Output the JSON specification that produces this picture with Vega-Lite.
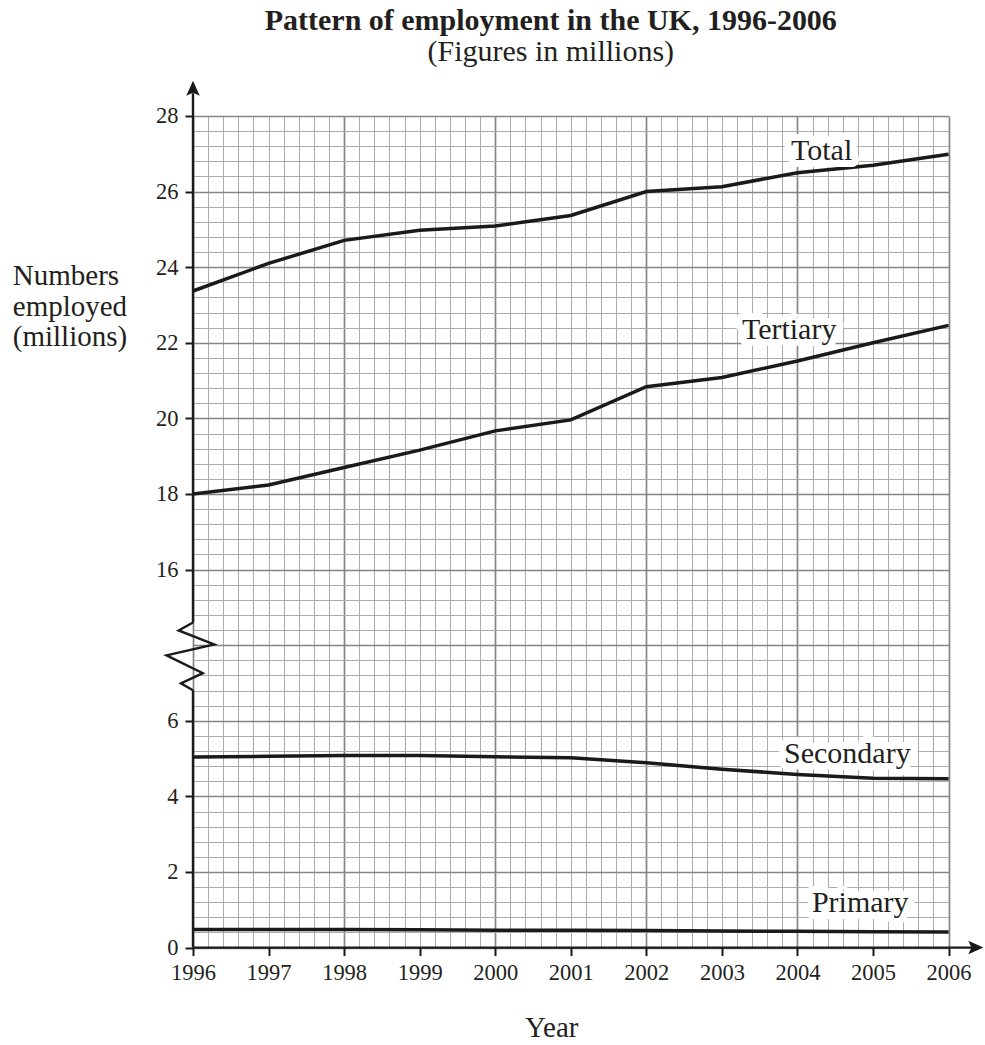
{
  "$schema": "https://vega.github.io/schema/vega-lite/v6.json",
  "width": 755.6,
  "height": 831.6,
  "padding": {"left": 12, "top": 5, "right": 5, "bottom": 5},
  "background": "white",
  "config": {"view": {"stroke": null}, "font": "Liberation Serif"},
  "title": {
    "text": "Pattern of employment in the UK, 1996-2006",
    "subtitle": "(Figures in millions)",
    "font": "Liberation Serif",
    "fontSize": 30,
    "fontWeight": "bold",
    "color": "#231f20",
    "subtitleFont": "Liberation Serif",
    "subtitleFontSize": 30,
    "subtitleColor": "#231f20",
    "subtitlePadding": 1,
    "anchor": "middle",
    "frame": "group",
    "offset": 14,
    "dx": -20
  },
  "datasets": {
    "series": [
      {"year": 1996, "value": 23.37, "series": "Total"},
      {"year": 1997, "value": 24.1, "series": "Total"},
      {"year": 1998, "value": 24.71, "series": "Total"},
      {"year": 1999, "value": 24.98, "series": "Total"},
      {"year": 2000, "value": 25.09, "series": "Total"},
      {"year": 2001, "value": 25.37, "series": "Total"},
      {"year": 2002, "value": 26.0, "series": "Total"},
      {"year": 2003, "value": 26.13, "series": "Total"},
      {"year": 2004, "value": 26.5, "series": "Total"},
      {"year": 2005, "value": 26.7, "series": "Total"},
      {"year": 2006, "value": 26.99, "series": "Total"},
      {"year": 1996, "value": 18.0, "series": "Tertiary"},
      {"year": 1997, "value": 18.24, "series": "Tertiary"},
      {"year": 1998, "value": 18.7, "series": "Tertiary"},
      {"year": 1999, "value": 19.16, "series": "Tertiary"},
      {"year": 2000, "value": 19.67, "series": "Tertiary"},
      {"year": 2001, "value": 19.96, "series": "Tertiary"},
      {"year": 2002, "value": 20.84, "series": "Tertiary"},
      {"year": 2003, "value": 21.08, "series": "Tertiary"},
      {"year": 2004, "value": 21.52, "series": "Tertiary"},
      {"year": 2005, "value": 22.0, "series": "Tertiary"},
      {"year": 2006, "value": 22.46, "series": "Tertiary"},
      {"year": 1996, "value": 5.04, "series": "Secondary"},
      {"year": 1997, "value": 5.06, "series": "Secondary"},
      {"year": 1998, "value": 5.08, "series": "Secondary"},
      {"year": 1999, "value": 5.08, "series": "Secondary"},
      {"year": 2000, "value": 5.05, "series": "Secondary"},
      {"year": 2001, "value": 5.02, "series": "Secondary"},
      {"year": 2002, "value": 4.89, "series": "Secondary"},
      {"year": 2003, "value": 4.72, "series": "Secondary"},
      {"year": 2004, "value": 4.58, "series": "Secondary"},
      {"year": 2005, "value": 4.48, "series": "Secondary"},
      {"year": 2006, "value": 4.47, "series": "Secondary"},
      {"year": 1996, "value": 0.48, "series": "Primary"},
      {"year": 1997, "value": 0.48, "series": "Primary"},
      {"year": 1998, "value": 0.48, "series": "Primary"},
      {"year": 1999, "value": 0.47, "series": "Primary"},
      {"year": 2000, "value": 0.46, "series": "Primary"},
      {"year": 2001, "value": 0.46, "series": "Primary"},
      {"year": 2002, "value": 0.45, "series": "Primary"},
      {"year": 2003, "value": 0.44, "series": "Primary"},
      {"year": 2004, "value": 0.43, "series": "Primary"},
      {"year": 2005, "value": 0.42, "series": "Primary"},
      {"year": 2006, "value": 0.41, "series": "Primary"}
    ],
    "labels": [
      {"label": "Total", "year": 2004.32, "value": 26.83},
      {"label": "Tertiary", "year": 2003.89, "value": 22.09},
      {"label": "Secondary", "year": 2004.66, "value": 4.89},
      {"label": "Primary", "year": 2004.83, "value": 0.94}
    ],
    "brk": [
      {"year": 1996, "value": 14.6, "ord": 1},
      {"year": 1995.81, "value": 14.39, "ord": 2},
      {"year": 1996.28, "value": 14.02, "ord": 3},
      {"year": 1995.65, "value": 7.73, "ord": 4},
      {"year": 1996.13, "value": 7.26, "ord": 5},
      {"year": 1995.84, "value": 6.99, "ord": 6},
      {"year": 1996, "value": 6.81, "ord": 7}
    ]
  },
  "layer": [
    {
      "data": {"name": "series"},
      "mark": {"type": "line", "color": "#1a1a1a", "strokeWidth": 3.5},
      "encoding": {
        "x": {
          "field": "year",
          "type": "quantitative",
          "scale": {"domain": [1996, 2006], "nice": false, "zero": false},
          "axis": {
            "title": "Year",
            "titleFont": "Liberation Serif",
            "titleFontSize": 29,
            "titleFontWeight": "normal",
            "titleColor": "#231f20",
            "titleAlign": "center",
            "titleBaseline": "alphabetic",
            "titleX": 358.3,
            "titleY": 88.7,
            "values": [1996, 1996.2, 1996.4, 1996.6, 1996.8, 1997, 1997.2, 1997.4, 1997.6, 1997.8, 1998, 1998.2, 1998.4, 1998.6, 1998.8, 1999, 1999.2, 1999.4, 1999.6, 1999.8, 2000, 2000.2, 2000.4, 2000.6, 2000.8, 2001, 2001.2, 2001.4, 2001.6, 2001.8, 2002, 2002.2, 2002.4, 2002.6, 2002.8, 2003, 2003.2, 2003.4, 2003.6, 2003.8, 2004, 2004.2, 2004.4, 2004.6, 2004.8, 2005, 2005.2, 2005.4, 2005.6, 2005.8, 2006],
            "tickCount": 500,
            "tickMinStep": 0.1,
            "labelExpr": "datum.value % 1 === 0 ? toString(datum.value) : ''",
            "labelFont": "Liberation Serif",
            "labelFontSize": 22.5,
            "labelColor": "#231f20",
            "labelFlush": false,
            "labelOverlap": false,
            "labelBound": false,
            "labelPadding": 6,
            "domain": false,
            "ticks": true,
            "tickSize": 8,
            "tickWidth": 2,
            "tickColor": "#1a1a1a",
            "tickOpacity": {"condition": {"test": "datum.value % 1 === 0", "value": 1}, "value": 0},
            "grid": true,
            "gridColor": {"condition": {"test": "datum.value % 2 === 0", "value": "#858585"}, "value": "#ababab"},
            "gridWidth": {"condition": {"test": "datum.value % 2 === 0", "value": 1.7}, "value": 1},
            "gridOpacity": 1
          }
        },
        "y": {
          "field": "value",
          "type": "quantitative",
          "scale": {"domain": [0, 8, 14, 28], "range": [831.6, 529.2, 529.2, 0], "nice": false, "zero": false},
          "axis": {
            "title": ["Numbers", "employed", "(millions)"],
            "titleFont": "Liberation Serif",
            "titleFontSize": 29,
            "titleFontWeight": "normal",
            "titleColor": "#231f20",
            "titleAngle": 0,
            "titleAlign": "left",
            "titleBaseline": "alphabetic",
            "titleLineHeight": 30.5,
            "titleX": -180.7,
            "titleY": 169,
            "values": [0, 0.4, 0.8, 1.2, 1.6, 2, 2.4, 2.8, 3.2, 3.6, 4, 4.4, 4.8, 5.2, 5.6, 6, 6.4, 6.8, 7.2, 7.6, 8, 14.4, 14.8, 15.2, 15.6, 16, 16.4, 16.8, 17.2, 17.6, 18, 18.4, 18.8, 19.2, 19.6, 20, 20.4, 20.8, 21.2, 21.6, 22, 22.4, 22.8, 23.2, 23.6, 24, 24.4, 24.8, 25.2, 25.6, 26, 26.4, 26.8, 27.2, 27.6, 28],
            "tickCount": 500,
            "tickMinStep": 0.1,
            "labelExpr": "datum.value % 2 === 0 && datum.value !== 8 ? toString(datum.value) : ''",
            "labelFont": "Liberation Serif",
            "labelFontSize": 22.5,
            "labelColor": "#231f20",
            "labelFlush": false,
            "labelOverlap": false,
            "labelBound": false,
            "labelPadding": 7,
            "domain": false,
            "ticks": true,
            "tickSize": 8,
            "tickWidth": 2,
            "tickColor": "#1a1a1a",
            "tickOpacity": {"condition": {"test": "datum.value % 2 === 0 && datum.value !== 8", "value": 1}, "value": 0},
            "grid": true,
            "gridColor": {"condition": {"test": "datum.value % 2 === 0", "value": "#858585"}, "value": "#ababab"},
            "gridWidth": {"condition": {"test": "datum.value % 2 === 0", "value": 1.7}, "value": 1},
            "gridOpacity": 1
          }
        },
        "detail": {"field": "series", "type": "nominal"}
      }
    },
    {
      "data": {"name": "brk"},
      "mark": {"type": "line", "color": "#1a1a1a", "strokeWidth": 2.4, "strokeJoin": "miter"},
      "encoding": {
        "x": {"field": "year", "type": "quantitative"},
        "y": {"field": "value", "type": "quantitative"},
        "order": {"field": "ord", "type": "quantitative"}
      }
    },
    {
      "data": {"values": [{}]},
      "mark": {"type": "rule", "color": "#1a1a1a", "strokeWidth": 2.4},
      "encoding": {
        "x": {"datum": 1996, "type": "quantitative"},
        "x2": {"datum": 2006.4},
        "y": {"datum": 0, "type": "quantitative"}
      }
    },
    {
      "data": {"values": [{}]},
      "mark": {"type": "rule", "color": "#1a1a1a", "strokeWidth": 2.4},
      "encoding": {
        "x": {"datum": 1996, "type": "quantitative"},
        "y": {"datum": 0, "type": "quantitative"},
        "y2": {"datum": 6.81}
      }
    },
    {
      "data": {"values": [{}]},
      "mark": {"type": "rule", "color": "#1a1a1a", "strokeWidth": 2.4},
      "encoding": {
        "x": {"datum": 1996, "type": "quantitative"},
        "y": {"datum": 14.6, "type": "quantitative"},
        "y2": {"datum": 28.6}
      }
    },
    {
      "data": {"values": [{}]},
      "mark": {"type": "point", "shape": "M0,0L0.45,1L0,0.8L-0.45,1Z", "filled": true, "color": "#1a1a1a", "opacity": 1, "size": 900},
      "encoding": {
        "x": {"datum": 1996, "type": "quantitative"},
        "y": {"datum": 28.93, "type": "quantitative"}
      }
    },
    {
      "data": {"values": [{}]},
      "mark": {"type": "point", "shape": "M0,0L0.45,1L0,0.8L-0.45,1Z", "filled": true, "color": "#1a1a1a", "opacity": 1, "size": 900, "angle": 90},
      "encoding": {
        "x": {"datum": 2006.46, "type": "quantitative"},
        "y": {"datum": 0, "type": "quantitative"}
      }
    },
    {
      "data": {"name": "labels"},
      "mark": {"type": "text", "font": "Liberation Serif", "fontSize": 30, "align": "center", "baseline": "alphabetic", "fill": "white", "stroke": "white", "strokeWidth": 14, "strokeJoin": "round"},
      "encoding": {
        "x": {"field": "year", "type": "quantitative"},
        "y": {"field": "value", "type": "quantitative"},
        "text": {"field": "label"}
      }
    },
    {
      "data": {"name": "labels"},
      "mark": {"type": "text", "font": "Liberation Serif", "fontSize": 30, "align": "center", "baseline": "alphabetic", "color": "#231f20"},
      "encoding": {
        "x": {"field": "year", "type": "quantitative"},
        "y": {"field": "value", "type": "quantitative"},
        "text": {"field": "label"}
      }
    }
  ]
}
